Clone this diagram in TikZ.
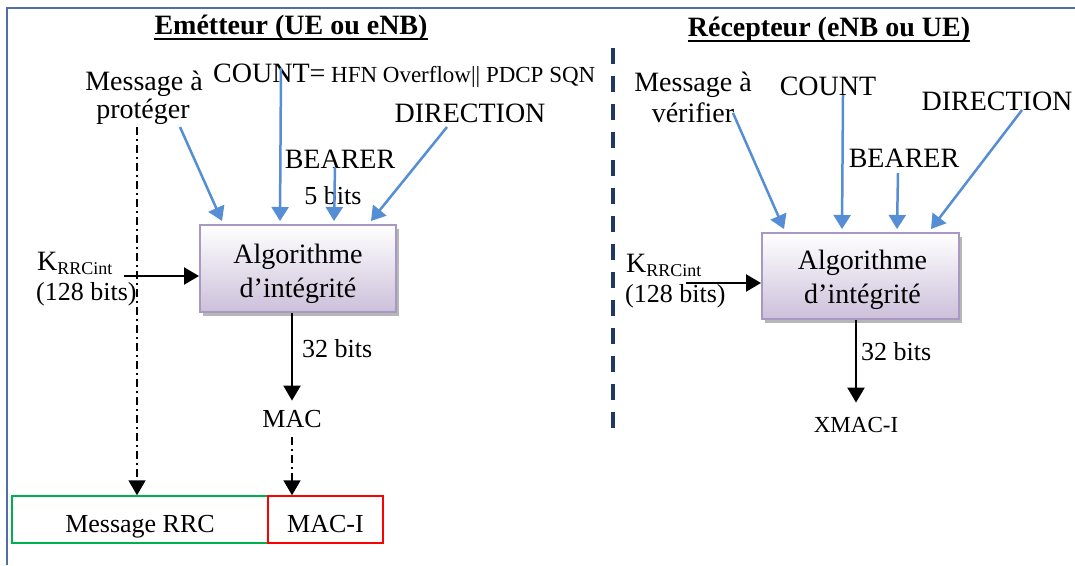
\documentclass[tikz,border=0pt]{standalone}
\usepackage{fontspec}
\setmainfont{Liberation Serif}
\usetikzlibrary{arrows.meta,shadows,calc}
\definecolor{arrowblue}{RGB}{85,142,213}
\definecolor{framecol}{RGB}{79,111,168}
\definecolor{sepcol}{RGB}{31,56,100}
\definecolor{boxborder}{RGB}{167,153,195}
\definecolor{boxbottom}{RGB}{204,192,218}
\definecolor{rrcgreen}{RGB}{0,176,80}
\definecolor{macred}{RGB}{255,0,0}
\newcommand\myfs[1]{\fontsize{#1}{#1}\selectfont}
\begin{document}
\begin{tikzpicture}[x=1pt,y=-1pt,
  lbl/.style={inner sep=0pt, anchor=base, font=\myfs{28}},
  lbls/.style={inner sep=0pt, anchor=base, font=\myfs{26}},
  lblw/.style={inner sep=0pt, anchor=base west, font=\myfs{26}},
  titlelbl/.style={inner sep=0pt, anchor=base, font=\myfs{28}\bfseries},
  algbox/.style={draw=boxborder, line width=2pt, top color=white, bottom color=boxbottom,
     minimum width=196pt, minimum height=87pt, inner sep=0pt,
     drop shadow={shadow xshift=3pt, shadow yshift=-4pt, fill=gray!70, opacity=0.8}},
  algtext/.style={inner sep=0pt, align=center, font=\fontsize{28}{34}\selectfont},
  bluearrow/.style={draw=arrowblue, line width=2.5pt, -{Triangle[length=14pt,width=17pt]}, arrowblue},
  blkarrow/.style={draw=black, line width=2.3pt, -{Triangle[length=15pt,width=17pt]}},
  dashdotarrow/.style={draw=black, line width=1.7pt, dash pattern=on 8pt off 4pt on 2pt off 4pt, -{Triangle[length=15pt,width=17pt]}},
  fieldbox/.style={line width=1.5pt, inner sep=0pt, minimum height=47pt, text height=25pt, text depth=0pt, font=\myfs{26}}
]
\useasboundingbox (0,0) rectangle (1075,565);
\fill[white] (0,0) rectangle (1075,565);
% frame and separator
\draw[framecol, line width=1.5pt] (7,565) -- (7,8) -- (1075,8);
\draw[sepcol, line width=3.5pt, dash pattern=on 16pt off 12pt] (613,48) -- (613,429);

% ---------- Emetteur ----------
\node[titlelbl] (title1) at (291,34) {Emétteur (UE ou eNB)};
\draw[line width=1.5pt] ($(title1.base west)+(0,5)$) -- ($(title1.base east)+(0,5)$);
\node[lbl] (msgA1) at (144,90) {Message à};
\node[lbl] (msgA2) at (143,118) {protéger};
\node[inner sep=0pt, anchor=base west] (count1) at (213,82) {{\myfs{28}COUNT=}{\myfs{23} HFN Overflow|| PDCP SQN}};
\node[lbl] (dir1) at (470,122) {DIRECTION};
\node[lbl] (bearer1) at (340,168) {BEARER};
\node[lbls] (bits5) at (333,204) {5 bits};
\node[algbox] (alg1) at (298,268.5) {};
\node[algtext] (alg1t) at ([yshift=-5pt]alg1.center) {Algorithme\\d’intégrité};
\node[inner sep=0pt, anchor=base west, font=\myfs{28}] (k1) at (37,270) {K\raisebox{-4pt}{\myfs{18}RRCint}};
\node[lblw] (k1b) at (36,300) {(128 bits)};
\node[lblw] (bits32a) at (302,357) {32 bits};
\node[lbls] (mac) at (292,427) {MAC};
\node[fieldbox, draw=rrcgreen, minimum width=256pt] (rrc) at (140,519.5) {Message RRC};
\node[fieldbox, draw=macred, minimum width=115pt] (maci) at (325.5,519.5) {MAC-I};

\coordinate (m1s) at (180,127);
\coordinate (c1s) at (281,68);
\coordinate (b1s) at (335,167);
\coordinate (d1s) at (447,127);
\coordinate (ka1) at (124,276);
\coordinate (dd1) at (137,127);
\draw[bluearrow] (m1s) -- ($(alg1.north west)+(23,-3)$);
\draw[bluearrow] (c1s) -- ($(alg1.north west)+(81,-3)$);
\draw[bluearrow] (b1s) -- ($(alg1.north west)+(135,-3)$);
\draw[bluearrow] (d1s) -- ($(alg1.north west)+(172,-3)$);
\draw[blkarrow] (ka1) -- (ka1 -| alg1.west);
\draw[blkarrow] (alg1.south -| mac) -- ([yshift=9pt]mac.north);
\draw[dashdotarrow] ([yshift=-10pt]mac.south) -- (mac.south |- maci.north);
\draw[dashdotarrow] (dd1) -- (dd1 |- rrc.north);

% ---------- Recepteur ----------
\node[titlelbl] (title2) at (829,36) {Récepteur (eNB ou UE)};
\draw[line width=1.5pt] ($(title2.base west)+(0,5)$) -- ($(title2.base east)+(0,5)$);
\node[lbl] (msgB1) at (693,91) {Message à};
\node[lbl] (msgB2) at (693,122) {vérifier};
\node[lbl] (count2) at (828,95) {COUNT};
\node[lbl] (dir2) at (997,110) {DIRECTION};
\node[lbl] (bearer2) at (904,167) {BEARER};
\node[algbox, minimum width=197pt, minimum height=86pt] (alg2) at (860.5,276) {};
\node[algtext] (alg2t) at ([xshift=2pt,yshift=-4pt]alg2.center) {Algorithme\\d’intégrité};
\node[inner sep=0pt, anchor=base west, font=\myfs{28}] (k2) at (626,272) {K\raisebox{-4pt}{\myfs{18}RRCint}};
\node[lblw] (k2b) at (625,302) {(128 bits)};
\node[lblw] (bits32b) at (861,360) {32 bits};
\node[inner sep=0pt, anchor=base, font=\myfs{23}] (xmac) at (856,432) {XMAC-I};

\coordinate (m2s) at (733,113);
\coordinate (c2s) at (843,95);
\coordinate (b2s) at (898,173);
\coordinate (d2s) at (1022,110);
\coordinate (ka2) at (686,283);
\draw[bluearrow] (m2s) -- ($(alg2.north west)+(23,-3)$);
\draw[bluearrow] (c2s) -- ($(alg2.north west)+(81,-3)$);
\draw[bluearrow] (b2s) -- ($(alg2.north west)+(136,-3)$);
\draw[bluearrow] (d2s) -- ($(alg2.north west)+(170,-3)$);
\draw[blkarrow] (ka2) -- (ka2 -| alg2.west);
\draw[blkarrow] (alg2.south -| xmac) -- ([yshift=14pt]xmac.north);
\end{tikzpicture}
\end{document}
